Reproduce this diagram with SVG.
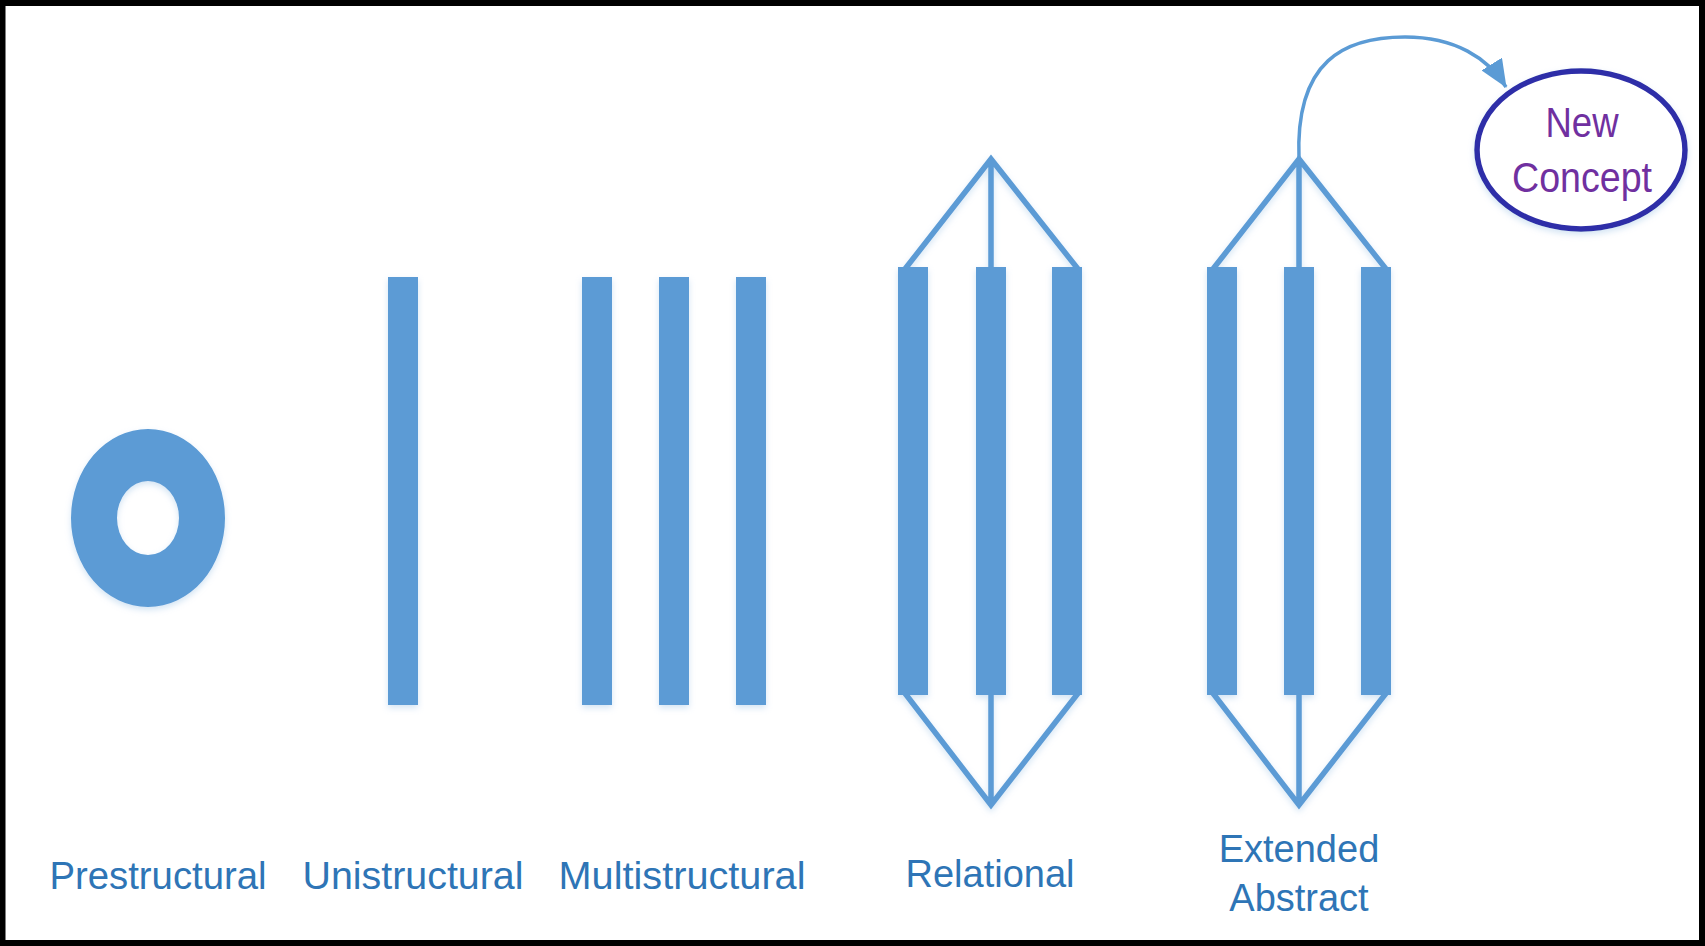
<svg xmlns="http://www.w3.org/2000/svg" width="1705" height="946" viewBox="0 0 1705 946">
  <defs>
    <style>
      .bar { fill: #5b9bd5; }
      .link { fill: none; stroke: #5b9bd5; stroke-width: 5.5; stroke-linejoin: miter; }
      .label { font-family: "Liberation Sans", Arial, sans-serif; font-size: 38px; fill: #2e75b6; text-anchor: middle; }
      .concept { font-family: "Liberation Sans", Arial, sans-serif; font-size: 42px; fill: #7030a0; text-anchor: middle; }
      .shadowed { filter: url(#soft); }
    </style>
    <filter id="soft" x="-20%" y="-20%" width="140%" height="140%">
      <feGaussianBlur in="SourceAlpha" stdDeviation="3"/>
      <feOffset dx="0" dy="3" result="b"/>
      <feFlood flood-color="#9dc3e6" flood-opacity="0.45"/>
      <feComposite in2="b" operator="in"/>
      <feMerge>
        <feMergeNode/>
        <feMergeNode in="SourceGraphic"/>
      </feMerge>
    </filter>
    <marker id="arrow" viewBox="0 0 28 24" refX="27" refY="12" markerWidth="28" markerHeight="24" markerUnits="userSpaceOnUse" orient="auto">
      <path d="M0,0 L28,12 L0,24 Z" fill="#5b9bd5"/>
    </marker>
  </defs>

  <!-- page -->
  <rect x="0" y="0" width="1705" height="946" fill="#ffffff"/>
  <rect x="2.5" y="3" width="1699.5" height="940" fill="none" stroke="#000000" stroke-width="6"/>

  <!-- Prestructural: a single ring -->
  <g id="prestructural">
    <path class="bar shadowed" fill-rule="evenodd" d="M71,518 A77,89 0 1 0 225,518 A77,89 0 1 0 71,518 Z M117,518 A31,37 0 1 0 179,518 A31,37 0 1 0 117,518 Z"/>
    <text class="label" x="158" y="889" textLength="217" lengthAdjust="spacingAndGlyphs">Prestructural</text>
  </g>

  <!-- Unistructural: one bar -->
  <g id="unistructural">
    <rect class="bar shadowed" x="388" y="277" width="30" height="428"/>
    <text class="label" x="413" y="889" textLength="221" lengthAdjust="spacingAndGlyphs">Unistructural</text>
  </g>

  <!-- Multistructural: three separate bars -->
  <g id="multistructural">
    <g class="shadowed">
      <rect class="bar" x="582" y="277" width="30" height="428"/>
      <rect class="bar" x="659" y="277" width="30" height="428"/>
      <rect class="bar" x="736" y="277" width="30" height="428"/>
    </g>
    <text class="label" x="682" y="889" textLength="247" lengthAdjust="spacingAndGlyphs">Multistructural</text>
  </g>

  <!-- Relational: three bars tied together top and bottom -->
  <g id="relational">
    <g class="shadowed">
      <path class="link" d="M991,159 L991,805 M905,269 L991,159 L1078,269 M904,692 L991,805 L1079,692"/>
      <rect class="bar" x="898" y="267" width="30" height="428"/>
      <rect class="bar" x="976" y="267" width="30" height="428"/>
      <rect class="bar" x="1052" y="267" width="30" height="428"/>
    </g>
    <text class="label" x="990" y="887">Relational</text>
  </g>

  <!-- Extended Abstract: relational structure reaching beyond -->
  <g id="extended-abstract">
    <g class="shadowed">
      <path class="link" d="M1299,159 L1299,805 M1213,269 L1299,159 L1386,269 M1212,692 L1299,805 L1387,692"/>
      <rect class="bar" x="1207" y="267" width="30" height="428"/>
      <rect class="bar" x="1284" y="267" width="30" height="428"/>
      <rect class="bar" x="1361" y="267" width="30" height="428"/>
    </g>
    <text class="label" x="1299" y="862">Extended</text>
    <text class="label" x="1299" y="911">Abstract</text>
  </g>

  <!-- New Concept -->
  <g id="new-concept">
    <ellipse class="shadowed" cx="1581" cy="150" rx="104" ry="79" fill="#ffffff" stroke="#2f2fa8" stroke-width="5.5"/>
    <text class="concept" x="1582" y="137" textLength="73" lengthAdjust="spacingAndGlyphs">New</text>
    <text class="concept" x="1582" y="192" textLength="140" lengthAdjust="spacingAndGlyphs">Concept</text>
  </g>

  <!-- connectors -->
  <g id="connectors">
    <path d="M1299,159 C1295,60 1345,37 1405,37 C1455,37 1488,58 1506,87" fill="none" stroke="#5b9bd5" stroke-width="3.5" marker-end="url(#arrow)"/>
  </g>
</svg>
